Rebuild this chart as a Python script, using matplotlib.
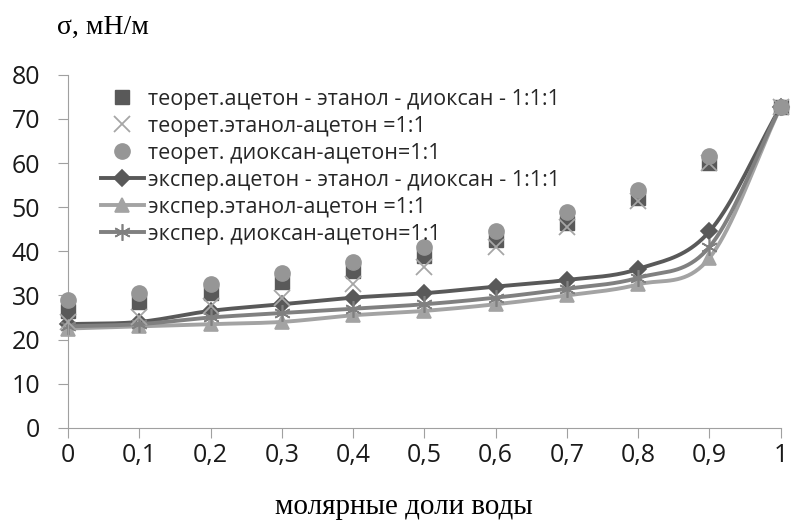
import numpy as np
import matplotlib
matplotlib.use('Agg')
import matplotlib.pyplot as plt

# molar fraction of water
x = [0, 0.1, 0.2, 0.3, 0.4, 0.5, 0.6, 0.7, 0.8, 0.9, 1.0]

theor_ternary = [26.5, 28.5, 30.5, 33.0, 35.5, 39.0, 42.5, 46.5, 52.0, 60.0, 72.8]
theor_eth_ac = [24.0, 25.0, 27.5, 29.5, 32.5, 36.5, 41.0, 45.5, 51.5, 60.0, 72.8]
theor_diox_ac = [29.0, 30.5, 32.5, 35.0, 37.5, 41.0, 44.5, 49.0, 54.0, 61.5, 72.8]

exp_ternary = [23.5, 24.0, 26.5, 28.0, 29.5, 30.5, 32.0, 33.5, 36.0, 44.5, 72.8]
exp_eth_ac = [22.5, 23.0, 23.5, 24.0, 25.5, 26.5, 28.0, 30.0, 32.5, 38.5, 72.8]
exp_diox_ac = [23.0, 23.5, 25.0, 26.0, 27.0, 28.0, 29.5, 31.5, 34.0, 41.0, 72.8]

labels = ['теорет.ацетон - этанол - диоксан - 1:1:1',
          'теорет.этанол-ацетон =1:1',
          'теорет. диоксан-ацетон=1:1',
          'экспер.ацетон - этанол - диоксан - 1:1:1',
          'экспер.этанол-ацетон =1:1',
          'экспер. диоксан-ацетон=1:1']
xtick_labels = ['0', '0,1', '0,2', '0,3', '0,4', '0,5', '0,6', '0,7', '0,8', '0,9', '1']


def smooth(xs, ys, n=20):
    # catmull-rom like Excel's smoothed line
    xs = np.asarray(xs, float); ys = np.asarray(ys, float)
    px = np.concatenate([[2*xs[0]-xs[1]], xs, [2*xs[-1]-xs[-2]]])
    py = np.concatenate([[2*ys[0]-ys[1]], ys, [2*ys[-1]-ys[-2]]])
    ox, oy = [], []
    for i in range(1, len(px)-2):
        t = np.linspace(0, 1, n, endpoint=False)
        for p, o in ((px, ox), (py, oy)):
            p0, p1, p2, p3 = p[i-1], p[i], p[i+1], p[i+2]
            o.extend(0.5*((2*p1) + (-p0+p2)*t + (2*p0-5*p1+4*p2-p3)*t**2 + (-p0+3*p1-3*p2+p3)*t**3))
    ox.append(xs[-1]); oy.append(ys[-1])
    return ox, oy


plt.rcParams['font.family'] = ['Open Sans', 'DejaVu Sans']
fig = plt.figure(figsize=(7.91, 5.23), dpi=100)
ax = fig.add_axes([0.086, 0.182, 0.901, 0.675])

ax.plot(x, theor_ternary, 's', color='#595959', ms=10, ls='none', label=labels[0], zorder=3)
ax.plot(x, theor_eth_ac, 'x', color='#a6a6a6', ms=11, mew=1.3, ls='none', label=labels[1], zorder=3)
ax.plot(x, theor_diox_ac, 'o', color='#969696', ms=11, ls='none', label=labels[2], zorder=3)

for ys, c, m, ms, lab in ((exp_ternary, '#595959', 'D', 8, labels[3]),
                          (exp_eth_ac, '#a3a3a3', '^', 10, labels[4]),
                          (exp_diox_ac, '#808080', (6, 2, 0), 12, labels[5])):
    sx, sy = smooth(x, ys)
    ax.plot(sx, sy, color=c, lw=2.8, zorder=2)
    ax.plot(x, ys, ls='none', marker=m, color=c, ms=ms, mew=1.2, zorder=2)
    ax.plot([], [], color=c, lw=2.8, marker=m, ms=ms, mew=1.2, label=lab)

ax.set_xlim(0, 1.0)
ax.set_ylim(0, 80)
ax.set_yticks(range(0, 81, 10))
ax.set_xticks(x)
ax.set_xticklabels(xtick_labels)
ax.tick_params(labelsize=18, color='#a0a0a0', length=7, direction='out', labelcolor='#1a1a1a')
ax.tick_params(axis='x', pad=4)
ax.tick_params(axis='y', pad=13)
for s in ('top', 'right'):
    ax.spines[s].set_visible(False)
for s in ('left', 'bottom'):
    ax.spines[s].set_color('#a0a0a0')
for ln in ax.lines:
    ln.set_clip_on(False)

fig.text(0.072, 0.948, 'σ, мН/м', family='Liberation Serif', fontsize=20, va='center')
fig.text(0.51, 0.03, 'молярные доли воды', family='Liberation Serif', fontsize=21, ha='center', va='center')

leg = ax.legend(loc='upper left', bbox_to_anchor=(0.028, 0.997), frameon=False, fontsize=15.5,
                handlelength=2.0, handletextpad=0.2, labelspacing=0.28, borderaxespad=0.2)
for t in leg.get_texts():
    t.set_color('#262626')

fig.savefig('out.png', dpi=100)
